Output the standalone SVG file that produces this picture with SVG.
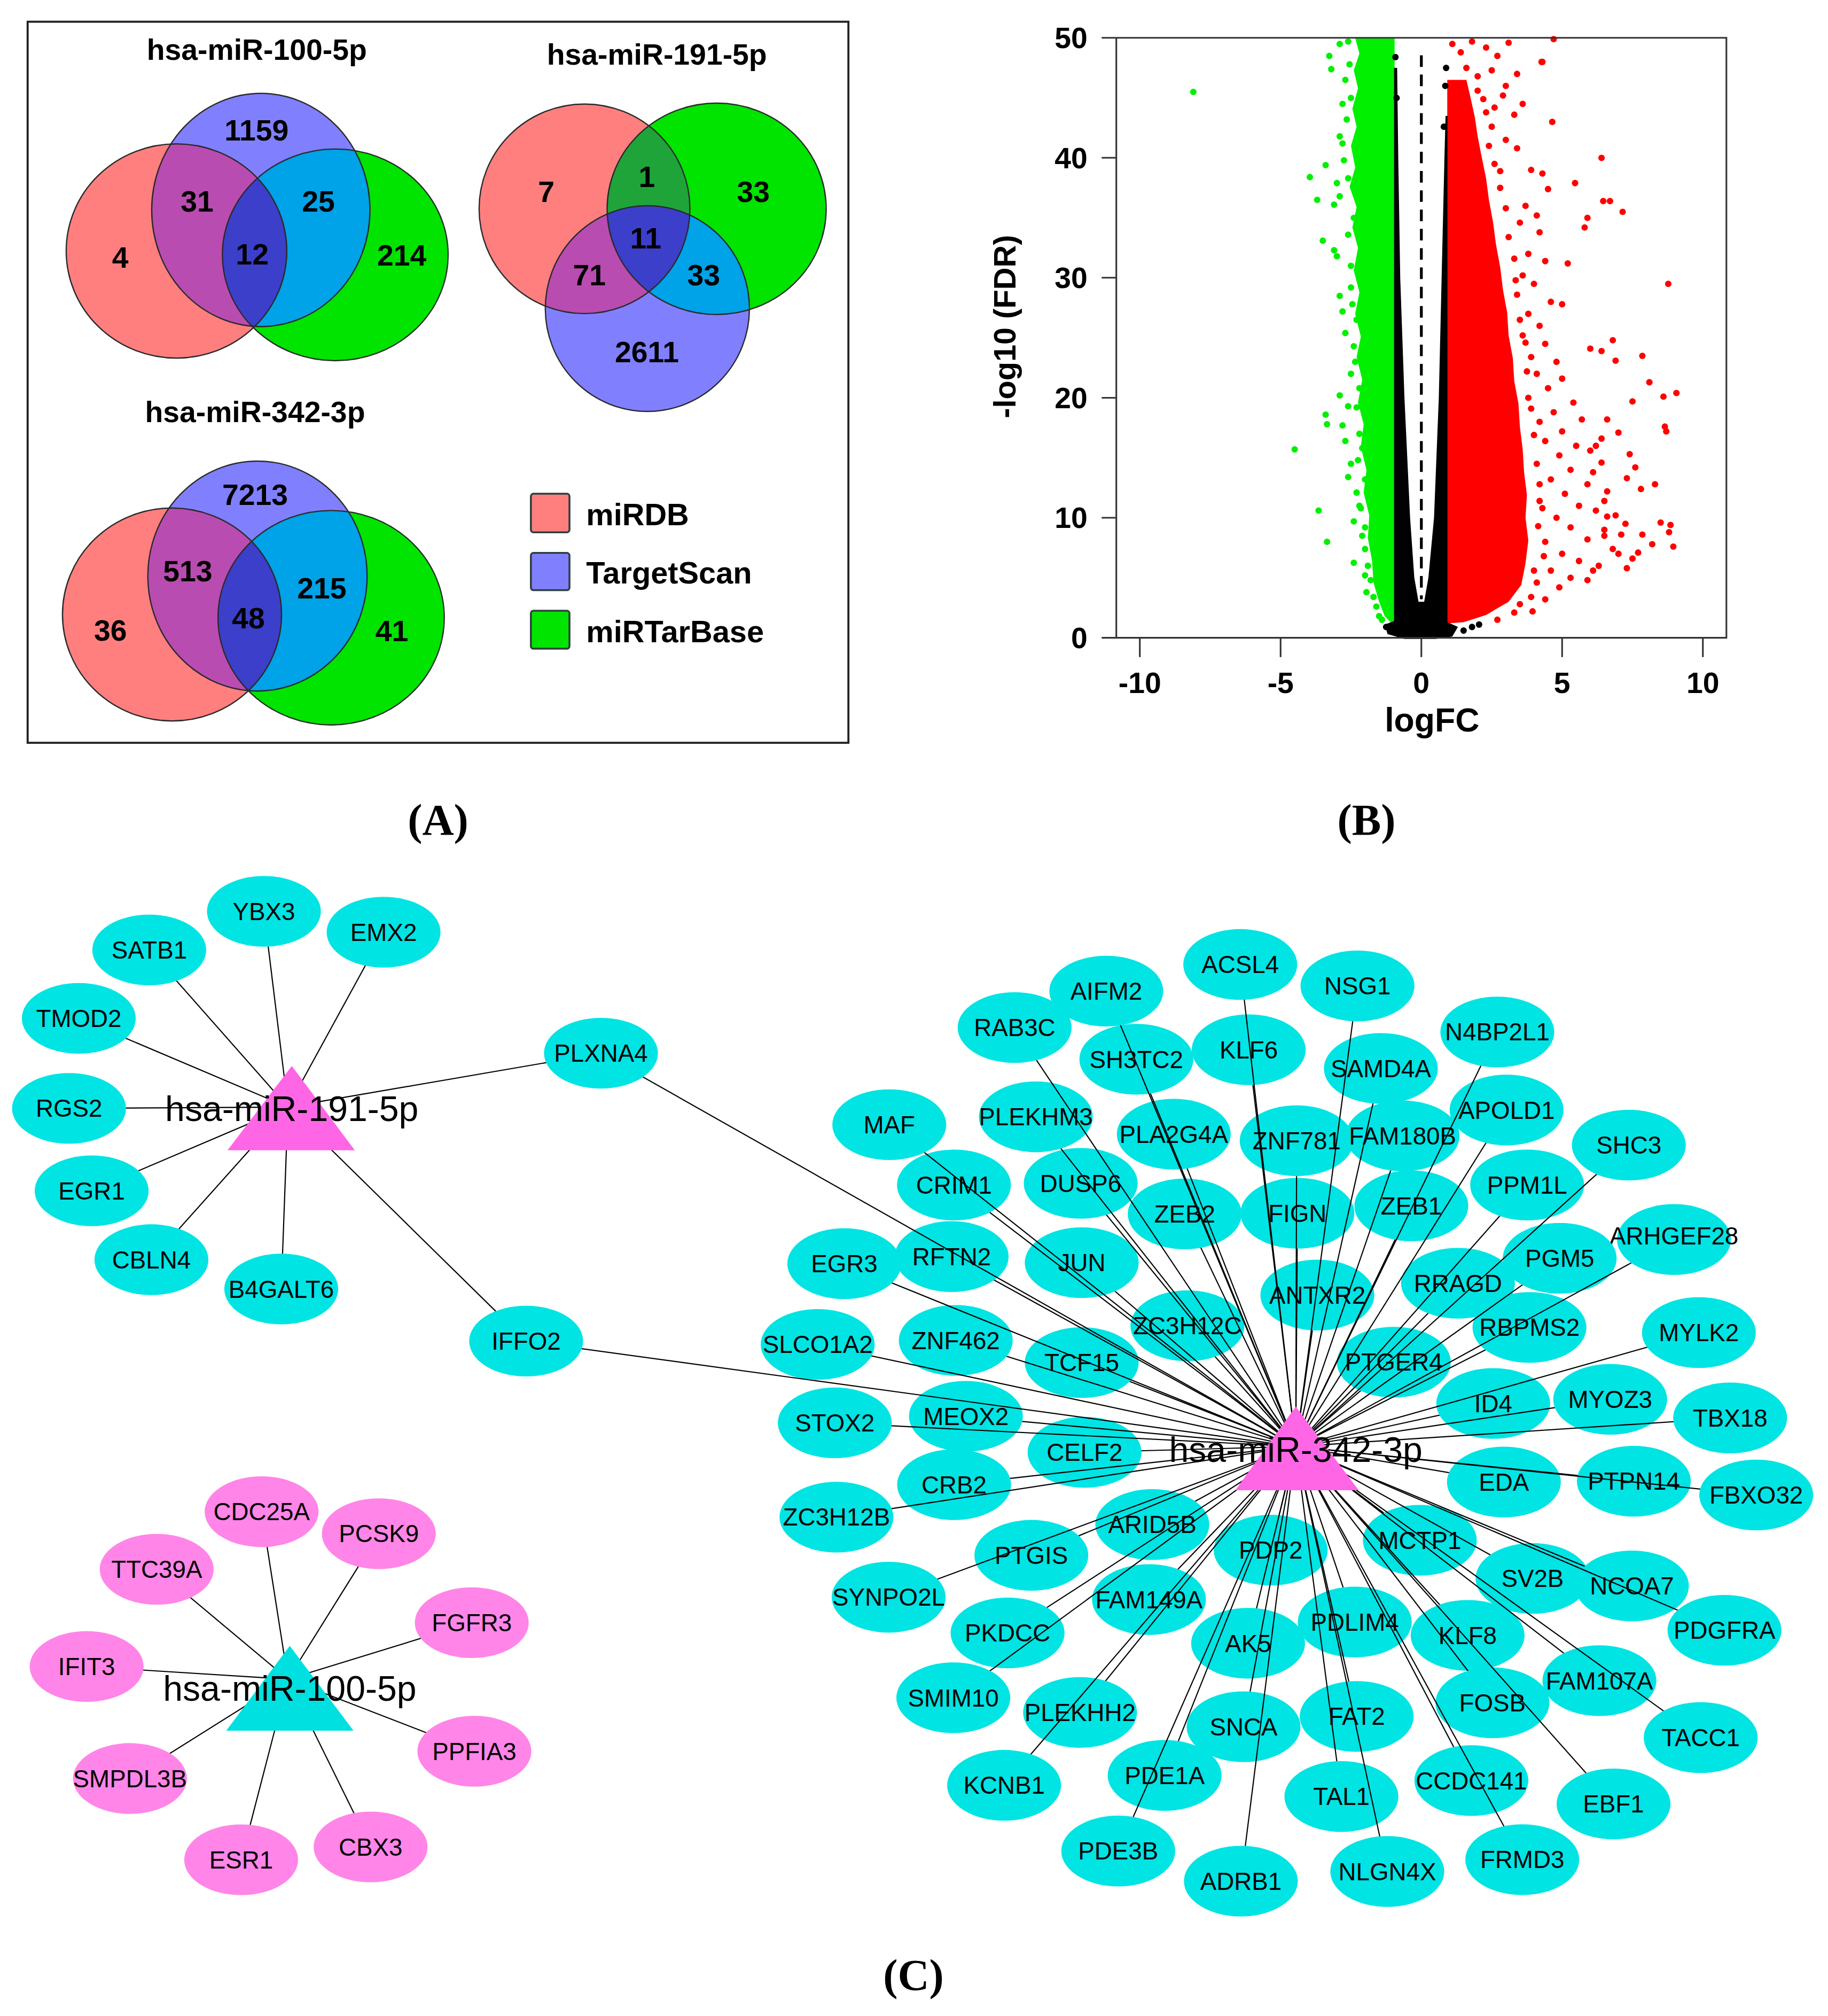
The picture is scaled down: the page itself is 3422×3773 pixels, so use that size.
<svg xmlns="http://www.w3.org/2000/svg" xmlns:xlink="http://www.w3.org/1999/xlink" width="3422" height="3773" viewBox="0 0 3422 3773">
<style>
.c{fill:#00E4E4}
.p{fill:#FF85E8}
.t{font-family:"Liberation Sans",Arial,sans-serif;font-size:19px;text-anchor:middle;fill:#000}
.tl{font-family:"Liberation Sans",Arial,sans-serif;font-size:27.5px;text-anchor:middle;fill:#000}
.vb{font-family:"Liberation Sans",Arial,sans-serif;font-weight:bold;font-size:23px;text-anchor:middle;fill:#000}
.lg{font-family:"Liberation Sans",Arial,sans-serif;font-weight:bold;font-size:24px;fill:#000}
.ax{font-family:"Liberation Sans",Arial,sans-serif;font-weight:bold;font-size:23px;fill:#000}
.pl{font-family:"Liberation Serif","Times New Roman",serif;font-weight:bold;font-size:34px;text-anchor:middle;fill:#000}
.edges line{stroke:#000;stroke-width:0.9}
</style>
<defs>
<rect id="wr" x="-10" y="-10" width="1450" height="1600" fill="#fff"/>
<ellipse id="dt" rx="0.115" ry="0.27"/>
<ellipse id="r1" cx="137.3" cy="195.2" rx="85.8" ry="83.3"/>
<ellipse id="b1" cx="202.9" cy="163.3" rx="84.9" ry="90.7"/>
<ellipse id="g1" cx="260.8" cy="198.2" rx="87.8" ry="82.3"/>
<ellipse id="r2" cx="454.7" cy="162.4" rx="82" ry="81.5"/>
<ellipse id="g2" cx="557.5" cy="162.4" rx="85.2" ry="82.2"/>
<ellipse id="b2" cx="503.6" cy="240" rx="79.4" ry="80"/>
<ellipse id="r3" cx="133.8" cy="477.9" rx="85.2" ry="82.8"/>
<ellipse id="b3" cx="200.3" cy="448" rx="85.3" ry="89.4"/>
<ellipse id="g3" cx="257.6" cy="480.4" rx="88" ry="83.4"/>
<clipPath id="cr1"><use href="#r1"/></clipPath>
<clipPath id="cb1"><use href="#b1"/></clipPath>
<clipPath id="cr2"><use href="#r2"/></clipPath>
<clipPath id="cb2"><use href="#b2"/></clipPath>
<clipPath id="cr3"><use href="#r3"/></clipPath>
<clipPath id="cb3"><use href="#b3"/></clipPath>
</defs>
<rect width="3422" height="3773" fill="#fff"/>
<g transform="scale(2.4064)">
<defs>
<mask id="m_YBX3" maskUnits="userSpaceOnUse" x="-10" y="-10" width="1450" height="1600"><use href="#wr"/><ellipse cx="205.3" cy="708.8" rx="44.3" ry="27.5"/></mask>
<mask id="m_EMX2" maskUnits="userSpaceOnUse" x="-10" y="-10" width="1450" height="1600"><use href="#wr"/><ellipse cx="298.4" cy="725" rx="44.3" ry="27.5"/></mask>
<mask id="m_SATB1" maskUnits="userSpaceOnUse" x="-10" y="-10" width="1450" height="1600"><use href="#wr"/><ellipse cx="116.1" cy="738.8" rx="44.3" ry="27.5"/></mask>
<mask id="m_TMOD2" maskUnits="userSpaceOnUse" x="-10" y="-10" width="1450" height="1600"><use href="#wr"/><ellipse cx="61.3" cy="792" rx="44.3" ry="27.5"/></mask>
<mask id="m_RGS2" maskUnits="userSpaceOnUse" x="-10" y="-10" width="1450" height="1600"><use href="#wr"/><ellipse cx="53.7" cy="862" rx="44.3" ry="27.5"/></mask>
<mask id="m_EGR1" maskUnits="userSpaceOnUse" x="-10" y="-10" width="1450" height="1600"><use href="#wr"/><ellipse cx="71.3" cy="926.1" rx="44.3" ry="27.5"/></mask>
<mask id="m_CBLN4" maskUnits="userSpaceOnUse" x="-10" y="-10" width="1450" height="1600"><use href="#wr"/><ellipse cx="117.8" cy="979.7" rx="44.3" ry="27.5"/></mask>
<mask id="m_B4GALT6" maskUnits="userSpaceOnUse" x="-10" y="-10" width="1450" height="1600"><use href="#wr"/><ellipse cx="218.8" cy="1002.5" rx="44.3" ry="27.5"/></mask>
<mask id="m_PLXNA4" maskUnits="userSpaceOnUse" x="-10" y="-10" width="1450" height="1600"><use href="#wr"/><ellipse cx="467.5" cy="819.1" rx="44.3" ry="27.5"/></mask>
<mask id="m_IFFO2" maskUnits="userSpaceOnUse" x="-10" y="-10" width="1450" height="1600"><use href="#wr"/><ellipse cx="409.3" cy="1043" rx="44.3" ry="27.5"/></mask>
<mask id="m_CDC25A" maskUnits="userSpaceOnUse" x="-10" y="-10" width="1450" height="1600"><use href="#wr"/><ellipse cx="203.5" cy="1175.7" rx="44.3" ry="27.5"/></mask>
<mask id="m_PCSK9" maskUnits="userSpaceOnUse" x="-10" y="-10" width="1450" height="1600"><use href="#wr"/><ellipse cx="294.7" cy="1192.8" rx="44.3" ry="27.5"/></mask>
<mask id="m_TTC39A" maskUnits="userSpaceOnUse" x="-10" y="-10" width="1450" height="1600"><use href="#wr"/><ellipse cx="121.9" cy="1220.5" rx="44.3" ry="27.5"/></mask>
<mask id="m_FGFR3" maskUnits="userSpaceOnUse" x="-10" y="-10" width="1450" height="1600"><use href="#wr"/><ellipse cx="367" cy="1262" rx="44.3" ry="27.5"/></mask>
<mask id="m_IFIT3" maskUnits="userSpaceOnUse" x="-10" y="-10" width="1450" height="1600"><use href="#wr"/><ellipse cx="67.4" cy="1296.1" rx="44.3" ry="27.5"/></mask>
<mask id="m_PPFIA3" maskUnits="userSpaceOnUse" x="-10" y="-10" width="1450" height="1600"><use href="#wr"/><ellipse cx="369" cy="1362" rx="44.3" ry="27.5"/></mask>
<mask id="m_SMPDL3B" maskUnits="userSpaceOnUse" x="-10" y="-10" width="1450" height="1600"><use href="#wr"/><ellipse cx="101.1" cy="1383.2" rx="44.3" ry="27.5"/></mask>
<mask id="m_ESR1" maskUnits="userSpaceOnUse" x="-10" y="-10" width="1450" height="1600"><use href="#wr"/><ellipse cx="187.6" cy="1446.4" rx="44.3" ry="27.5"/></mask>
<mask id="m_CBX3" maskUnits="userSpaceOnUse" x="-10" y="-10" width="1450" height="1600"><use href="#wr"/><ellipse cx="288.3" cy="1436.4" rx="44.3" ry="27.5"/></mask>
<mask id="m_ACSL4" maskUnits="userSpaceOnUse" x="-10" y="-10" width="1450" height="1600"><use href="#wr"/><ellipse cx="964.8" cy="750.1" rx="44.3" ry="27.5"/></mask>
<mask id="m_AIFM2" maskUnits="userSpaceOnUse" x="-10" y="-10" width="1450" height="1600"><use href="#wr"/><ellipse cx="860.6" cy="770.8" rx="44.3" ry="27.5"/></mask>
<mask id="m_NSG1" maskUnits="userSpaceOnUse" x="-10" y="-10" width="1450" height="1600"><use href="#wr"/><ellipse cx="1056" cy="766.8" rx="44.3" ry="27.5"/></mask>
<mask id="m_RAB3C" maskUnits="userSpaceOnUse" x="-10" y="-10" width="1450" height="1600"><use href="#wr"/><ellipse cx="789.3" cy="799.2" rx="44.3" ry="27.5"/></mask>
<mask id="m_N4BP2L1" maskUnits="userSpaceOnUse" x="-10" y="-10" width="1450" height="1600"><use href="#wr"/><ellipse cx="1164.8" cy="802.6" rx="44.3" ry="27.5"/></mask>
<mask id="m_SH3TC2" maskUnits="userSpaceOnUse" x="-10" y="-10" width="1450" height="1600"><use href="#wr"/><ellipse cx="884" cy="823.8" rx="44.3" ry="27.5"/></mask>
<mask id="m_KLF6" maskUnits="userSpaceOnUse" x="-10" y="-10" width="1450" height="1600"><use href="#wr"/><ellipse cx="971.4" cy="816.4" rx="44.3" ry="27.5"/></mask>
<mask id="m_SAMD4A" maskUnits="userSpaceOnUse" x="-10" y="-10" width="1450" height="1600"><use href="#wr"/><ellipse cx="1074.2" cy="831" rx="44.3" ry="27.5"/></mask>
<mask id="m_MAF" maskUnits="userSpaceOnUse" x="-10" y="-10" width="1450" height="1600"><use href="#wr"/><ellipse cx="691.8" cy="874.7" rx="44.3" ry="27.5"/></mask>
<mask id="m_PLEKHM3" maskUnits="userSpaceOnUse" x="-10" y="-10" width="1450" height="1600"><use href="#wr"/><ellipse cx="805.8" cy="868.6" rx="44.3" ry="27.5"/></mask>
<mask id="m_PLA2G4A" maskUnits="userSpaceOnUse" x="-10" y="-10" width="1450" height="1600"><use href="#wr"/><ellipse cx="913.1" cy="882.1" rx="44.3" ry="27.5"/></mask>
<mask id="m_ZNF781" maskUnits="userSpaceOnUse" x="-10" y="-10" width="1450" height="1600"><use href="#wr"/><ellipse cx="1008.7" cy="887.2" rx="44.3" ry="27.5"/></mask>
<mask id="m_FAM180B" maskUnits="userSpaceOnUse" x="-10" y="-10" width="1450" height="1600"><use href="#wr"/><ellipse cx="1091.1" cy="883.4" rx="44.3" ry="27.5"/></mask>
<mask id="m_APOLD1" maskUnits="userSpaceOnUse" x="-10" y="-10" width="1450" height="1600"><use href="#wr"/><ellipse cx="1172" cy="863.3" rx="44.3" ry="27.5"/></mask>
<mask id="m_SHC3" maskUnits="userSpaceOnUse" x="-10" y="-10" width="1450" height="1600"><use href="#wr"/><ellipse cx="1267.1" cy="890.6" rx="44.3" ry="27.5"/></mask>
<mask id="m_CRIM1" maskUnits="userSpaceOnUse" x="-10" y="-10" width="1450" height="1600"><use href="#wr"/><ellipse cx="742.1" cy="921.6" rx="44.3" ry="27.5"/></mask>
<mask id="m_DUSP6" maskUnits="userSpaceOnUse" x="-10" y="-10" width="1450" height="1600"><use href="#wr"/><ellipse cx="840.7" cy="920.3" rx="44.3" ry="27.5"/></mask>
<mask id="m_ZEB2" maskUnits="userSpaceOnUse" x="-10" y="-10" width="1450" height="1600"><use href="#wr"/><ellipse cx="921.6" cy="944.1" rx="44.3" ry="27.5"/></mask>
<mask id="m_FIGN" maskUnits="userSpaceOnUse" x="-10" y="-10" width="1450" height="1600"><use href="#wr"/><ellipse cx="1009.3" cy="943.6" rx="44.3" ry="27.5"/></mask>
<mask id="m_ZEB1" maskUnits="userSpaceOnUse" x="-10" y="-10" width="1450" height="1600"><use href="#wr"/><ellipse cx="1097.9" cy="937.8" rx="44.3" ry="27.5"/></mask>
<mask id="m_PPM1L" maskUnits="userSpaceOnUse" x="-10" y="-10" width="1450" height="1600"><use href="#wr"/><ellipse cx="1188" cy="921.6" rx="44.3" ry="27.5"/></mask>
<mask id="m_ARHGEF28" maskUnits="userSpaceOnUse" x="-10" y="-10" width="1450" height="1600"><use href="#wr"/><ellipse cx="1302.2" cy="964" rx="44.3" ry="27.5"/></mask>
<mask id="m_EGR3" maskUnits="userSpaceOnUse" x="-10" y="-10" width="1450" height="1600"><use href="#wr"/><ellipse cx="656.8" cy="982.8" rx="44.3" ry="27.5"/></mask>
<mask id="m_RFTN2" maskUnits="userSpaceOnUse" x="-10" y="-10" width="1450" height="1600"><use href="#wr"/><ellipse cx="740.3" cy="977.3" rx="44.3" ry="27.5"/></mask>
<mask id="m_JUN" maskUnits="userSpaceOnUse" x="-10" y="-10" width="1450" height="1600"><use href="#wr"/><ellipse cx="841.5" cy="982" rx="44.3" ry="27.5"/></mask>
<mask id="m_ANTXR2" maskUnits="userSpaceOnUse" x="-10" y="-10" width="1450" height="1600"><use href="#wr"/><ellipse cx="1024.8" cy="1007.2" rx="44.3" ry="27.5"/></mask>
<mask id="m_RRAGD" maskUnits="userSpaceOnUse" x="-10" y="-10" width="1450" height="1600"><use href="#wr"/><ellipse cx="1134.2" cy="998" rx="44.3" ry="27.5"/></mask>
<mask id="m_PGM5" maskUnits="userSpaceOnUse" x="-10" y="-10" width="1450" height="1600"><use href="#wr"/><ellipse cx="1213.3" cy="978.6" rx="44.3" ry="27.5"/></mask>
<mask id="m_SLCO1A2" maskUnits="userSpaceOnUse" x="-10" y="-10" width="1450" height="1600"><use href="#wr"/><ellipse cx="636.1" cy="1045.6" rx="44.3" ry="27.5"/></mask>
<mask id="m_ZNF462" maskUnits="userSpaceOnUse" x="-10" y="-10" width="1450" height="1600"><use href="#wr"/><ellipse cx="743.5" cy="1042.5" rx="44.3" ry="27.5"/></mask>
<mask id="m_ZC3H12C" maskUnits="userSpaceOnUse" x="-10" y="-10" width="1450" height="1600"><use href="#wr"/><ellipse cx="923.7" cy="1031.1" rx="44.3" ry="27.5"/></mask>
<mask id="m_TCF15" maskUnits="userSpaceOnUse" x="-10" y="-10" width="1450" height="1600"><use href="#wr"/><ellipse cx="841.5" cy="1059.7" rx="44.3" ry="27.5"/></mask>
<mask id="m_PTGER4" maskUnits="userSpaceOnUse" x="-10" y="-10" width="1450" height="1600"><use href="#wr"/><ellipse cx="1084.3" cy="1059.4" rx="44.3" ry="27.5"/></mask>
<mask id="m_RBPMS2" maskUnits="userSpaceOnUse" x="-10" y="-10" width="1450" height="1600"><use href="#wr"/><ellipse cx="1189.8" cy="1032.4" rx="44.3" ry="27.5"/></mask>
<mask id="m_MYLK2" maskUnits="userSpaceOnUse" x="-10" y="-10" width="1450" height="1600"><use href="#wr"/><ellipse cx="1321.6" cy="1036.4" rx="44.3" ry="27.5"/></mask>
<mask id="m_STOX2" maskUnits="userSpaceOnUse" x="-10" y="-10" width="1450" height="1600"><use href="#wr"/><ellipse cx="649.4" cy="1106.6" rx="44.3" ry="27.5"/></mask>
<mask id="m_MEOX2" maskUnits="userSpaceOnUse" x="-10" y="-10" width="1450" height="1600"><use href="#wr"/><ellipse cx="751.4" cy="1101.5" rx="44.3" ry="27.5"/></mask>
<mask id="m_CELF2" maskUnits="userSpaceOnUse" x="-10" y="-10" width="1450" height="1600"><use href="#wr"/><ellipse cx="843.7" cy="1129.5" rx="44.3" ry="27.5"/></mask>
<mask id="m_ID4" maskUnits="userSpaceOnUse" x="-10" y="-10" width="1450" height="1600"><use href="#wr"/><ellipse cx="1161.6" cy="1091.5" rx="44.3" ry="27.5"/></mask>
<mask id="m_MYOZ3" maskUnits="userSpaceOnUse" x="-10" y="-10" width="1450" height="1600"><use href="#wr"/><ellipse cx="1252.6" cy="1088.3" rx="44.3" ry="27.5"/></mask>
<mask id="m_TBX18" maskUnits="userSpaceOnUse" x="-10" y="-10" width="1450" height="1600"><use href="#wr"/><ellipse cx="1345.9" cy="1102.8" rx="44.3" ry="27.5"/></mask>
<mask id="m_ZC3H12B" maskUnits="userSpaceOnUse" x="-10" y="-10" width="1450" height="1600"><use href="#wr"/><ellipse cx="650.7" cy="1179.9" rx="44.3" ry="27.5"/></mask>
<mask id="m_CRB2" maskUnits="userSpaceOnUse" x="-10" y="-10" width="1450" height="1600"><use href="#wr"/><ellipse cx="742.2" cy="1154.7" rx="44.3" ry="27.5"/></mask>
<mask id="m_EDA" maskUnits="userSpaceOnUse" x="-10" y="-10" width="1450" height="1600"><use href="#wr"/><ellipse cx="1169.9" cy="1152.6" rx="44.3" ry="27.5"/></mask>
<mask id="m_PTPN14" maskUnits="userSpaceOnUse" x="-10" y="-10" width="1450" height="1600"><use href="#wr"/><ellipse cx="1271" cy="1152" rx="44.3" ry="27.5"/></mask>
<mask id="m_FBXO32" maskUnits="userSpaceOnUse" x="-10" y="-10" width="1450" height="1600"><use href="#wr"/><ellipse cx="1366.2" cy="1162.7" rx="44.3" ry="27.5"/></mask>
<mask id="m_ARID5B" maskUnits="userSpaceOnUse" x="-10" y="-10" width="1450" height="1600"><use href="#wr"/><ellipse cx="896.4" cy="1185.7" rx="44.3" ry="27.5"/></mask>
<mask id="m_PTGIS" maskUnits="userSpaceOnUse" x="-10" y="-10" width="1450" height="1600"><use href="#wr"/><ellipse cx="802.3" cy="1209.6" rx="44.3" ry="27.5"/></mask>
<mask id="m_PDP2" maskUnits="userSpaceOnUse" x="-10" y="-10" width="1450" height="1600"><use href="#wr"/><ellipse cx="988.5" cy="1205.6" rx="44.3" ry="27.5"/></mask>
<mask id="m_MCTP1" maskUnits="userSpaceOnUse" x="-10" y="-10" width="1450" height="1600"><use href="#wr"/><ellipse cx="1104.5" cy="1197.9" rx="44.3" ry="27.5"/></mask>
<mask id="m_SV2B" maskUnits="userSpaceOnUse" x="-10" y="-10" width="1450" height="1600"><use href="#wr"/><ellipse cx="1192.2" cy="1227.6" rx="44.3" ry="27.5"/></mask>
<mask id="m_NCOA7" maskUnits="userSpaceOnUse" x="-10" y="-10" width="1450" height="1600"><use href="#wr"/><ellipse cx="1269.5" cy="1233.4" rx="44.3" ry="27.5"/></mask>
<mask id="m_SYNPO2L" maskUnits="userSpaceOnUse" x="-10" y="-10" width="1450" height="1600"><use href="#wr"/><ellipse cx="691.3" cy="1242.2" rx="44.3" ry="27.5"/></mask>
<mask id="m_FAM149A" maskUnits="userSpaceOnUse" x="-10" y="-10" width="1450" height="1600"><use href="#wr"/><ellipse cx="893.8" cy="1244" rx="44.3" ry="27.5"/></mask>
<mask id="m_PDLIM4" maskUnits="userSpaceOnUse" x="-10" y="-10" width="1450" height="1600"><use href="#wr"/><ellipse cx="1053.9" cy="1261.5" rx="44.3" ry="27.5"/></mask>
<mask id="m_AK5" maskUnits="userSpaceOnUse" x="-10" y="-10" width="1450" height="1600"><use href="#wr"/><ellipse cx="970.9" cy="1278" rx="44.3" ry="27.5"/></mask>
<mask id="m_KLF8" maskUnits="userSpaceOnUse" x="-10" y="-10" width="1450" height="1600"><use href="#wr"/><ellipse cx="1141.7" cy="1271.9" rx="44.3" ry="27.5"/></mask>
<mask id="m_PDGFRA" maskUnits="userSpaceOnUse" x="-10" y="-10" width="1450" height="1600"><use href="#wr"/><ellipse cx="1341.5" cy="1267.9" rx="44.3" ry="27.5"/></mask>
<mask id="m_PKDCC" maskUnits="userSpaceOnUse" x="-10" y="-10" width="1450" height="1600"><use href="#wr"/><ellipse cx="783.8" cy="1270" rx="44.3" ry="27.5"/></mask>
<mask id="m_FAM107A" maskUnits="userSpaceOnUse" x="-10" y="-10" width="1450" height="1600"><use href="#wr"/><ellipse cx="1244.2" cy="1307.1" rx="44.3" ry="27.5"/></mask>
<mask id="m_SMIM10" maskUnits="userSpaceOnUse" x="-10" y="-10" width="1450" height="1600"><use href="#wr"/><ellipse cx="741.6" cy="1320.4" rx="44.3" ry="27.5"/></mask>
<mask id="m_PLEKHH2" maskUnits="userSpaceOnUse" x="-10" y="-10" width="1450" height="1600"><use href="#wr"/><ellipse cx="840.2" cy="1331.8" rx="44.3" ry="27.5"/></mask>
<mask id="m_SNCA" maskUnits="userSpaceOnUse" x="-10" y="-10" width="1450" height="1600"><use href="#wr"/><ellipse cx="967.4" cy="1342.9" rx="44.3" ry="27.5"/></mask>
<mask id="m_FAT2" maskUnits="userSpaceOnUse" x="-10" y="-10" width="1450" height="1600"><use href="#wr"/><ellipse cx="1055.4" cy="1334.9" rx="44.3" ry="27.5"/></mask>
<mask id="m_FOSB" maskUnits="userSpaceOnUse" x="-10" y="-10" width="1450" height="1600"><use href="#wr"/><ellipse cx="1161" cy="1324.3" rx="44.3" ry="27.5"/></mask>
<mask id="m_TACC1" maskUnits="userSpaceOnUse" x="-10" y="-10" width="1450" height="1600"><use href="#wr"/><ellipse cx="1323" cy="1351.4" rx="44.3" ry="27.5"/></mask>
<mask id="m_KCNB1" maskUnits="userSpaceOnUse" x="-10" y="-10" width="1450" height="1600"><use href="#wr"/><ellipse cx="781.1" cy="1388.5" rx="44.3" ry="27.5"/></mask>
<mask id="m_PDE1A" maskUnits="userSpaceOnUse" x="-10" y="-10" width="1450" height="1600"><use href="#wr"/><ellipse cx="906" cy="1380.8" rx="44.3" ry="27.5"/></mask>
<mask id="m_TAL1" maskUnits="userSpaceOnUse" x="-10" y="-10" width="1450" height="1600"><use href="#wr"/><ellipse cx="1043.5" cy="1397.2" rx="44.3" ry="27.5"/></mask>
<mask id="m_CCDC141" maskUnits="userSpaceOnUse" x="-10" y="-10" width="1450" height="1600"><use href="#wr"/><ellipse cx="1144.6" cy="1384.8" rx="44.3" ry="27.5"/></mask>
<mask id="m_EBF1" maskUnits="userSpaceOnUse" x="-10" y="-10" width="1450" height="1600"><use href="#wr"/><ellipse cx="1255.2" cy="1403" rx="44.3" ry="27.5"/></mask>
<mask id="m_PDE3B" maskUnits="userSpaceOnUse" x="-10" y="-10" width="1450" height="1600"><use href="#wr"/><ellipse cx="869.9" cy="1439.6" rx="44.3" ry="27.5"/></mask>
<mask id="m_ADRB1" maskUnits="userSpaceOnUse" x="-10" y="-10" width="1450" height="1600"><use href="#wr"/><ellipse cx="965.3" cy="1463" rx="44.3" ry="27.5"/></mask>
<mask id="m_NLGN4X" maskUnits="userSpaceOnUse" x="-10" y="-10" width="1450" height="1600"><use href="#wr"/><ellipse cx="1079.2" cy="1455.5" rx="44.3" ry="27.5"/></mask>
<mask id="m_FRMD3" maskUnits="userSpaceOnUse" x="-10" y="-10" width="1450" height="1600"><use href="#wr"/><ellipse cx="1184.2" cy="1446.3" rx="44.3" ry="27.5"/></mask>
</defs>

<!-- Panel A: Venn diagrams -->
<g id="panelA">
<rect x="21.5" y="16.9" width="638.5" height="560.8" fill="none" stroke="#222" stroke-width="1.6"/>
<g id="venn1">
<use href="#r1" fill="#FF7F7F"/><use href="#b1" fill="#8080FF"/><use href="#g1" fill="#00E400"/>
<use href="#b1" fill="#B94CB0" clip-path="url(#cr1)"/>
<use href="#g1" fill="#00A2E8" clip-path="url(#cb1)"/>
<use href="#g1" fill="#1FA43A" clip-path="url(#cr1)"/>
<g clip-path="url(#cr1)"><use href="#g1" fill="#3C3FC9" clip-path="url(#cb1)"/></g>
<g fill="none" stroke="#2a2a2a" stroke-width="1"><use href="#r1"/><use href="#b1"/><use href="#g1"/></g>
<text class="vb" x="199.8" y="46.4">hsa-miR-100-5p</text>
<text class="vb" x="199.6" y="109.1">1159</text>
<text class="vb" x="153.3" y="164.4">31</text>
<text class="vb" x="247.7" y="164.4">25</text>
<text class="vb" x="93.6" y="208.4">4</text>
<text class="vb" x="196.2" y="205.8">12</text>
<text class="vb" x="312.6" y="206.5">214</text>
</g>
<g id="venn2">
<use href="#r2" fill="#FF7F7F"/><use href="#g2" fill="#00E400"/><use href="#b2" fill="#8080FF"/>
<use href="#g2" fill="#1FA43A" clip-path="url(#cr2)"/>
<use href="#r2" fill="#B94CB0" clip-path="url(#cb2)"/>
<use href="#g2" fill="#00A2E8" clip-path="url(#cb2)"/>
<g clip-path="url(#cr2)"><use href="#g2" fill="#3C3FC9" clip-path="url(#cb2)"/></g>
<g fill="none" stroke="#2a2a2a" stroke-width="1"><use href="#r2"/><use href="#g2"/><use href="#b2"/></g>
<text class="vb" x="511" y="50.1">hsa-miR-191-5p</text>
<text class="vb" x="425" y="156.9">7</text>
<text class="vb" x="503.2" y="145.6">1</text>
<text class="vb" x="586" y="156.9">33</text>
<text class="vb" x="502.3" y="193.4">11</text>
<text class="vb" x="458.5" y="222">71</text>
<text class="vb" x="547.4" y="222">33</text>
<text class="vb" x="503.2" y="281.8">2611</text>
</g>
<g id="venn3">
<use href="#r3" fill="#FF7F7F"/><use href="#b3" fill="#8080FF"/><use href="#g3" fill="#00E400"/>
<use href="#b3" fill="#B94CB0" clip-path="url(#cr3)"/>
<use href="#g3" fill="#00A2E8" clip-path="url(#cb3)"/>
<use href="#g3" fill="#1FA43A" clip-path="url(#cr3)"/>
<g clip-path="url(#cr3)"><use href="#g3" fill="#3C3FC9" clip-path="url(#cb3)"/></g>
<g fill="none" stroke="#2a2a2a" stroke-width="1"><use href="#r3"/><use href="#b3"/><use href="#g3"/></g>
<text class="vb" x="198.4" y="328.2">hsa-miR-342-3p</text>
<text class="vb" x="198.4" y="392.8">7213</text>
<text class="vb" x="146" y="452.2">513</text>
<text class="vb" x="250.3" y="465.4">215</text>
<text class="vb" x="85.9" y="498.2">36</text>
<text class="vb" x="193.2" y="488.8">48</text>
<text class="vb" x="304.8" y="498.6">41</text>
</g>
<g id="legend" stroke="#2f3f3f" stroke-width="1.5">
<rect x="413" y="384" width="30" height="30" rx="2" fill="#FF7F7F"/>
<rect x="413" y="430" width="30" height="29" rx="2" fill="#8080FF"/>
<rect x="413" y="475" width="30" height="29.5" rx="2" fill="#00E400"/>
</g>
<text class="lg" x="456" y="408.3">miRDB</text>
<text class="lg" x="456" y="453.8">TargetScan</text>
<text class="lg" x="456" y="499.7">miRTarBase</text>
</g>

<!-- Panel B: volcano plot -->
<g id="panelB">
<g transform="translate(1105.7,496) scale(21.9,-9.33)">
<polygon fill="#00F000" points="-0.95,50 -2.35,50 -2.2,48.7 -2.4,47.3 -2.25,45.8 -2.45,44.1 -2.3,42.6 -2.5,41 -2.35,39.2 -2.55,37.6 -2.3,35.9 -2.45,34.2 -2.25,32.5 -2.4,30.6 -2.2,28.8 -2.35,27 -2.15,25.1 -2.3,23.4 -2.1,21.5 -2.25,19.6 -2.05,17.8 -2.15,15.9 -1.95,14 -2.05,12.1 -1.85,10.2 -1.9,8.3 -1.75,6.4 -1.7,4.6 -1.5,3 -1.3,1.8 -1.1,1.3 -0.95,1.3"/>
<polygon fill="#FF0000" points="0.92,46.5 1.6,46.5 1.75,45 1.9,43.4 2.0,41.8 2.15,40 2.3,38.3 2.4,36.5 2.55,34.6 2.65,32.8 2.8,30.9 2.9,29 3.05,27.1 3.1,25.2 3.25,23.3 3.3,21.4 3.45,19.5 3.5,17.6 3.6,15.7 3.65,13.8 3.75,11.9 3.7,10 3.8,8.1 3.7,6.2 3.55,4.4 3.1,3 2.3,1.9 1.5,1.3 0.92,1.2"/>
<polygon fill="#000" points="-0.97,47.5 -0.86,47.5 -0.82,40 -0.75,30 -0.6,20 -0.4,10 -0.25,5 -0.1,3 0.1,3 0.25,5 0.45,10 0.62,20 0.72,30 0.82,40 0.86,43.5 0.93,43.5 0.93,1.3 1.3,0.9 1.1,0.1 0.5,-0.1 -0.6,-0.1 -1.2,0.3 -1.3,1.1 -0.97,1.4"/>
<g fill="#00F000">
<use href="#dt" x="-8.1" y="45.5"/><use href="#dt" x="-3.96" y="38.4"/><use href="#dt" x="-3.7" y="36.5"/><use href="#dt" x="-3.4" y="39.4"/><use href="#dt" x="-3.5" y="33.1"/><use href="#dt" x="-3.27" y="48.5"/><use href="#dt" x="-3.2" y="47.4"/><use href="#dt" x="-3.4" y="18.6"/><use href="#dt" x="-3.35" y="17.8"/><use href="#dt" x="-4.5" y="15.7"/><use href="#dt" x="-3.65" y="10.6"/><use href="#dt" x="-3.35" y="8.0"/><use href="#dt" x="-2.8" y="17.7"/><use href="#dt" x="-2.4" y="6.25"/><use href="#dt" x="-2.9" y="41.8"/><use href="#dt" x="-2.8" y="41.2"/><use href="#dt" x="-3.0" y="37.9"/><use href="#dt" x="-2.9" y="36.8"/><use href="#dt" x="-2.6" y="38.3"/><use href="#dt" x="-3.1" y="32.3"/><use href="#dt" x="-3.0" y="31.8"/><use href="#dt" x="-2.8" y="27.2"/><use href="#dt" x="-2.7" y="25.4"/><use href="#dt" x="-2.5" y="22"/><use href="#dt" x="-2.9" y="20.2"/><use href="#dt" x="-2.6" y="19.3"/><use href="#dt" x="-2.7" y="16.4"/><use href="#dt" x="-2.5" y="14.5"/><use href="#dt" x="-2.6" y="13.4"/><use href="#dt" x="-2.3" y="12.1"/><use href="#dt" x="-2.2" y="11.0"/><use href="#dt" x="-2.4" y="9.7"/><use href="#dt" x="-2.1" y="8.5"/><use href="#dt" x="-2.0" y="7.4"/><use href="#dt" x="-1.9" y="6.0"/><use href="#dt" x="-1.8" y="4.8"/><use href="#dt" x="-1.7" y="3.4"/><use href="#dt" x="-1.6" y="2.6"/><use href="#dt" x="-2.6" y="49.7"/><use href="#dt" x="-2.9" y="49.5"/><use href="#dt" x="-2.5" y="45"/><use href="#dt" x="-2.8" y="44.5"/><use href="#dt" x="-2.4" y="35.0"/><use href="#dt" x="-2.5" y="29.2"/><use href="#dt" x="-2.3" y="26.5"/><use href="#dt" x="-2.2" y="17.0"/><use href="#dt" x="-2.1" y="15.8"/><use href="#dt" x="-2.0" y="13.2"/><use href="#dt" x="-2.2" y="20.8"/><use href="#dt" x="-2.4" y="24.3"/><use href="#dt" x="-2.6" y="33.6"/><use href="#dt" x="-2.9" y="28.5"/><use href="#dt" x="-3.1" y="36.1"/><use href="#dt" x="-2.7" y="46.5"/><use href="#dt" x="-2.2" y="43"/><use href="#dt" x="-2.0" y="5.2"/><use href="#dt" x="-1.5" y="1.8"/><use href="#dt" x="-1.4" y="1.5"/>
<use href="#dt" x="-2.55" y="47.8"/><use href="#dt" x="-2.65" y="43.2"/><use href="#dt" x="-2.75" y="39.8"/><use href="#dt" x="-2.5" y="31"/><use href="#dt" x="-2.45" y="27.8"/><use href="#dt" x="-2.35" y="23"/><use href="#dt" x="-2.3" y="19.2"/><use href="#dt" x="-2.25" y="14.8"/><use href="#dt" x="-2.15" y="10.8"/><use href="#dt" x="-2.0" y="9.2"/><use href="#dt" x="-1.95" y="3.8"/>
</g>
<g fill="#FF0000">
<use href="#dt" x="1.1" y="49.5"/><use href="#dt" x="1.4" y="48.8"/><use href="#dt" x="1.8" y="49.7"/><use href="#dt" x="2.3" y="49.2"/><use href="#dt" x="2.7" y="48.5"/><use href="#dt" x="3.1" y="49.6"/><use href="#dt" x="1.6" y="47.5"/><use href="#dt" x="2.0" y="46.8"/><use href="#dt" x="2.5" y="47.3"/><use href="#dt" x="3.4" y="47"/><use href="#dt" x="3.0" y="46"/><use href="#dt" x="4.3" y="48"/><use href="#dt" x="4.7" y="49.9"/><use href="#dt" x="2.9" y="45.2"/><use href="#dt" x="3.6" y="44.5"/><use href="#dt" x="3.3" y="43.6"/><use href="#dt" x="2.6" y="44.2"/><use href="#dt" x="3.0" y="41.5"/><use href="#dt" x="3.4" y="40.8"/><use href="#dt" x="2.4" y="41"/><use href="#dt" x="4.65" y="43"/>
<use href="#dt" x="3.9" y="39"/><use href="#dt" x="4.3" y="38.7"/><use href="#dt" x="4.5" y="37.4"/><use href="#dt" x="3.7" y="36"/><use href="#dt" x="4.1" y="35.2"/><use href="#dt" x="3.5" y="34.6"/><use href="#dt" x="4.2" y="33.8"/><use href="#dt" x="3.8" y="32"/><use href="#dt" x="4.4" y="31.4"/><use href="#dt" x="3.6" y="30.2"/><use href="#dt" x="4.0" y="29.5"/><use href="#dt" x="3.4" y="28.6"/><use href="#dt" x="4.6" y="28"/><use href="#dt" x="3.8" y="27"/><use href="#dt" x="4.2" y="26"/><use href="#dt" x="3.6" y="25.2"/><use href="#dt" x="4.4" y="24.5"/><use href="#dt" x="3.9" y="23.4"/><use href="#dt" x="4.8" y="23"/><use href="#dt" x="4.1" y="22"/><use href="#dt" x="5.0" y="21.6"/><use href="#dt" x="4.5" y="20.8"/><use href="#dt" x="3.8" y="20"/><use href="#dt" x="5.4" y="19.6"/><use href="#dt" x="4.7" y="18.8"/><use href="#dt" x="4.2" y="18"/><use href="#dt" x="5.7" y="18.2"/><use href="#dt" x="5.0" y="17.2"/><use href="#dt" x="4.4" y="16.4"/><use href="#dt" x="5.5" y="16.0"/><use href="#dt" x="6.0" y="15.6"/><use href="#dt" x="4.9" y="15.2"/><use href="#dt" x="6.4" y="14.6"/><use href="#dt" x="5.3" y="14"/><use href="#dt" x="4.6" y="13.2"/><use href="#dt" x="5.9" y="12.8"/><use href="#dt" x="6.6" y="12.2"/><use href="#dt" x="5.1" y="12"/><use href="#dt" x="4.2" y="11.4"/><use href="#dt" x="5.6" y="11"/><use href="#dt" x="6.2" y="10.6"/><use href="#dt" x="6.9" y="10.2"/><use href="#dt" x="4.8" y="10"/><use href="#dt" x="5.3" y="9.2"/><use href="#dt" x="6.5" y="9.0"/><use href="#dt" x="7.1" y="8.6"/><use href="#dt" x="5.9" y="8.2"/><use href="#dt" x="4.4" y="8"/><use href="#dt" x="6.8" y="7.4"/><use href="#dt" x="5.0" y="7.0"/><use href="#dt" x="5.6" y="6.4"/><use href="#dt" x="6.3" y="6.0"/><use href="#dt" x="4.6" y="5.6"/><use href="#dt" x="5.3" y="5.0"/><use href="#dt" x="4.1" y="4.6"/><use href="#dt" x="4.9" y="4.2"/><use href="#dt" x="5.9" y="4.8"/><use href="#dt" x="3.9" y="3.4"/><use href="#dt" x="4.4" y="3.2"/><use href="#dt" x="3.5" y="2.8"/>
<use href="#dt" x="5.46" y="37.9"/><use href="#dt" x="6.4" y="40"/><use href="#dt" x="6.46" y="36.4"/><use href="#dt" x="6.7" y="36.4"/><use href="#dt" x="7.15" y="35.5"/><use href="#dt" x="5.8" y="34.2"/><use href="#dt" x="5.9" y="35"/><use href="#dt" x="8.77" y="29.5"/><use href="#dt" x="5.2" y="31.2"/><use href="#dt" x="5.0" y="27.8"/><use href="#dt" x="6.0" y="24.1"/><use href="#dt" x="6.4" y="23.9"/><use href="#dt" x="6.8" y="24.8"/><use href="#dt" x="7.85" y="23.5"/><use href="#dt" x="6.9" y="23.1"/><use href="#dt" x="9.06" y="20.4"/><use href="#dt" x="8.6" y="20.1"/><use href="#dt" x="8.65" y="17.6"/><use href="#dt" x="8.7" y="17.2"/><use href="#dt" x="8.1" y="21.3"/><use href="#dt" x="7.5" y="19.7"/><use href="#dt" x="7.0" y="17.1"/><use href="#dt" x="8.3" y="12.8"/><use href="#dt" x="7.4" y="15.3"/><use href="#dt" x="7.6" y="14.2"/><use href="#dt" x="7.3" y="13.3"/><use href="#dt" x="7.8" y="12.4"/><use href="#dt" x="8.85" y="9.4"/><use href="#dt" x="8.95" y="7.6"/><use href="#dt" x="8.8" y="8.8"/><use href="#dt" x="8.5" y="9.6"/><use href="#dt" x="8.2" y="7.8"/><use href="#dt" x="7.85" y="8.6"/><use href="#dt" x="7.7" y="7.1"/><use href="#dt" x="7.5" y="6.6"/><use href="#dt" x="7.3" y="5.8"/><use href="#dt" x="7.0" y="7.0"/><use href="#dt" x="6.6" y="10.1"/><use href="#dt" x="6.5" y="11.4"/><use href="#dt" x="6.1" y="13.8"/><use href="#dt" x="6.2" y="16.0"/><use href="#dt" x="6.4" y="16.6"/><use href="#dt" x="6.6" y="18.2"/><use href="#dt" x="6.1" y="5.6"/><use href="#dt" x="6.5" y="8.5"/><use href="#dt" x="7.25" y="9.5"/><use href="#dt" x="4.27" y="48"/>
<use href="#dt" x="2.0" y="45.6"/><use href="#dt" x="2.3" y="43.8"/><use href="#dt" x="2.5" y="42.6"/><use href="#dt" x="2.6" y="39.5"/><use href="#dt" x="2.8" y="37.5"/><use href="#dt" x="3.0" y="35.8"/><use href="#dt" x="3.1" y="33.4"/><use href="#dt" x="3.3" y="31.6"/><use href="#dt" x="3.35" y="29.8"/><use href="#dt" x="3.5" y="26.5"/><use href="#dt" x="3.7" y="24.6"/><use href="#dt" x="3.75" y="22.2"/><use href="#dt" x="3.9" y="19.1"/><use href="#dt" x="4.0" y="16.9"/><use href="#dt" x="4.1" y="14.5"/><use href="#dt" x="4.2" y="12.8"/><use href="#dt" x="4.3" y="10.8"/><use href="#dt" x="4.15" y="9.3"/><use href="#dt" x="4.35" y="6.8"/><use href="#dt" x="4.0" y="5.6"/><use href="#dt" x="3.95" y="2.2"/><use href="#dt" x="3.3" y="2.1"/><use href="#dt" x="2.7" y="1.5"/><use href="#dt" x="2.8" y="38.9"/><use href="#dt" x="2.2" y="44.9"/>
</g>
<g fill="#000">
<use href="#dt" x="1.8" y="0.9"/><use href="#dt" x="2.05" y="1.1"/><use href="#dt" x="1.5" y="0.6"/><use href="#dt" x="-1.25" y="0.9"/><use href="#dt" x="0.85" y="46"/><use href="#dt" x="0.88" y="47.5"/><use href="#dt" x="-0.92" y="48.4"/><use href="#dt" x="-0.88" y="45"/><use href="#dt" x="0.8" y="42.6"/>
</g>
</g>
<line x1="1105.7" y1="43" x2="1105.7" y2="466" stroke="#000" stroke-width="2.2" stroke-dasharray="9,6"/>
<path d="M868.4,29.4 V496 M857,29.4 H1343 V496 H857 M857,122.7 H868.4 M857,216 H868.4 M857,309.4 H868.4 M857,402.7 H868.4 M886.7,496 V511 M996.2,496 V511 M1105.7,496 V511 M1215.2,496 V511 M1324.7,496 V511" fill="none" stroke="#333" stroke-width="1.3"/>
<g class="ax" text-anchor="end">
<text x="846" y="37.4">50</text>
<text x="846" y="130.7">40</text>
<text x="846" y="224">30</text>
<text x="846" y="317.4">20</text>
<text x="846" y="410.7">10</text>
<text x="846" y="504">0</text>
</g>
<g class="ax" text-anchor="middle">
<text x="886.7" y="538.8">-10</text>
<text x="996.2" y="538.8">-5</text>
<text x="1105.7" y="538.8">0</text>
<text x="1215.2" y="538.8">5</text>
<text x="1324.7" y="538.8">10</text>
</g>
<text x="1114" y="569" font-family="Liberation Sans, Arial, sans-serif" font-weight="bold" font-size="26" text-anchor="middle">logFC</text>
<text transform="translate(790,254) rotate(-90)" font-family="Liberation Sans, Arial, sans-serif" font-weight="bold" font-size="24" text-anchor="middle">-log10 (FDR)</text>
</g>

<text class="pl" x="340.8" y="649">(A)</text>
<text class="pl" x="1063" y="649">(B)</text>
<text class="pl" x="710.6" y="1547.5">(C)</text>

<!-- Panel C: network nodes -->
<g id="n_YBX3"><ellipse class="c" cx="205.3" cy="708.8" rx="44.3" ry="27.5"/><text class="t" x="205.3" y="715.5">YBX3</text></g>
<g id="n_EMX2"><ellipse class="c" cx="298.4" cy="725" rx="44.3" ry="27.5"/><text class="t" x="298.4" y="731.7">EMX2</text></g>
<g id="n_SATB1"><ellipse class="c" cx="116.1" cy="738.8" rx="44.3" ry="27.5"/><text class="t" x="116.1" y="745.5">SATB1</text></g>
<g id="n_TMOD2"><ellipse class="c" cx="61.3" cy="792" rx="44.3" ry="27.5"/><text class="t" x="61.3" y="798.7">TMOD2</text></g>
<g id="n_RGS2"><ellipse class="c" cx="53.7" cy="862" rx="44.3" ry="27.5"/><text class="t" x="53.7" y="868.7">RGS2</text></g>
<g id="n_EGR1"><ellipse class="c" cx="71.3" cy="926.1" rx="44.3" ry="27.5"/><text class="t" x="71.3" y="932.8">EGR1</text></g>
<g id="n_CBLN4"><ellipse class="c" cx="117.8" cy="979.7" rx="44.3" ry="27.5"/><text class="t" x="117.8" y="986.4">CBLN4</text></g>
<g id="n_B4GALT6"><ellipse class="c" cx="218.8" cy="1002.5" rx="44.3" ry="27.5"/><text class="t" x="218.8" y="1009.2">B4GALT6</text></g>
<g id="n_PLXNA4"><ellipse class="c" cx="467.5" cy="819.1" rx="44.3" ry="27.5"/><text class="t" x="467.5" y="825.8">PLXNA4</text></g>
<g id="n_IFFO2"><ellipse class="c" cx="409.3" cy="1043" rx="44.3" ry="27.5"/><text class="t" x="409.3" y="1049.7">IFFO2</text></g>

<g id="n_CDC25A"><ellipse class="p" cx="203.5" cy="1175.7" rx="44.3" ry="27.5"/><text class="t" x="203.5" y="1182.4">CDC25A</text></g>
<g id="n_PCSK9"><ellipse class="p" cx="294.7" cy="1192.8" rx="44.3" ry="27.5"/><text class="t" x="294.7" y="1199.5">PCSK9</text></g>
<g id="n_TTC39A"><ellipse class="p" cx="121.9" cy="1220.5" rx="44.3" ry="27.5"/><text class="t" x="121.9" y="1227.2">TTC39A</text></g>
<g id="n_FGFR3"><ellipse class="p" cx="367" cy="1262" rx="44.3" ry="27.5"/><text class="t" x="367" y="1268.7">FGFR3</text></g>
<g id="n_IFIT3"><ellipse class="p" cx="67.4" cy="1296.1" rx="44.3" ry="27.5"/><text class="t" x="67.4" y="1302.8">IFIT3</text></g>
<g id="n_PPFIA3"><ellipse class="p" cx="369" cy="1362" rx="44.3" ry="27.5"/><text class="t" x="369" y="1368.7">PPFIA3</text></g>
<g id="n_SMPDL3B"><ellipse class="p" cx="101.1" cy="1383.2" rx="44.3" ry="27.5"/><text class="t" x="101.1" y="1389.9">SMPDL3B</text></g>
<g id="n_ESR1"><ellipse class="p" cx="187.6" cy="1446.4" rx="44.3" ry="27.5"/><text class="t" x="187.6" y="1453.1">ESR1</text></g>
<g id="n_CBX3"><ellipse class="p" cx="288.3" cy="1436.4" rx="44.3" ry="27.5"/><text class="t" x="288.3" y="1443.1">CBX3</text></g>

<g id="n_ACSL4"><ellipse class="c" cx="964.8" cy="750.1" rx="44.3" ry="27.5"/><text class="t" x="964.8" y="756.8">ACSL4</text></g>
<g id="n_AIFM2"><ellipse class="c" cx="860.6" cy="770.8" rx="44.3" ry="27.5"/><text class="t" x="860.6" y="777.5">AIFM2</text></g>
<g id="n_NSG1"><ellipse class="c" cx="1056" cy="766.8" rx="44.3" ry="27.5"/><text class="t" x="1056" y="773.5">NSG1</text></g>
<g id="n_RAB3C"><ellipse class="c" cx="789.3" cy="799.2" rx="44.3" ry="27.5"/><text class="t" x="789.3" y="805.9">RAB3C</text></g>
<g id="n_N4BP2L1"><ellipse class="c" cx="1164.8" cy="802.6" rx="44.3" ry="27.5"/><text class="t" x="1164.8" y="809.3">N4BP2L1</text></g>
<g id="n_SH3TC2"><ellipse class="c" cx="884" cy="823.8" rx="44.3" ry="27.5"/><text class="t" x="884" y="830.5">SH3TC2</text></g>
<g id="n_KLF6"><ellipse class="c" cx="971.4" cy="816.4" rx="44.3" ry="27.5"/><text class="t" x="971.4" y="823.1">KLF6</text></g>
<g id="n_SAMD4A"><ellipse class="c" cx="1074.2" cy="831" rx="44.3" ry="27.5"/><text class="t" x="1074.2" y="837.7">SAMD4A</text></g>
<g id="n_MAF"><ellipse class="c" cx="691.8" cy="874.7" rx="44.3" ry="27.5"/><text class="t" x="691.8" y="881.4">MAF</text></g>
<g id="n_PLEKHM3"><ellipse class="c" cx="805.8" cy="868.6" rx="44.3" ry="27.5"/><text class="t" x="805.8" y="875.3">PLEKHM3</text></g>
<g id="n_PLA2G4A"><ellipse class="c" cx="913.1" cy="882.1" rx="44.3" ry="27.5"/><text class="t" x="913.1" y="888.8">PLA2G4A</text></g>
<g id="n_ZNF781"><ellipse class="c" cx="1008.7" cy="887.2" rx="44.3" ry="27.5"/><text class="t" x="1008.7" y="893.9">ZNF781</text></g>
<g id="n_FAM180B"><ellipse class="c" cx="1091.1" cy="883.4" rx="44.3" ry="27.5"/><text class="t" x="1091.1" y="890.1">FAM180B</text></g>
<g id="n_APOLD1"><ellipse class="c" cx="1172" cy="863.3" rx="44.3" ry="27.5"/><text class="t" x="1172" y="870">APOLD1</text></g>
<g id="n_SHC3"><ellipse class="c" cx="1267.1" cy="890.6" rx="44.3" ry="27.5"/><text class="t" x="1267.1" y="897.3">SHC3</text></g>
<g id="n_CRIM1"><ellipse class="c" cx="742.1" cy="921.6" rx="44.3" ry="27.5"/><text class="t" x="742.1" y="928.3">CRIM1</text></g>
<g id="n_DUSP6"><ellipse class="c" cx="840.7" cy="920.3" rx="44.3" ry="27.5"/><text class="t" x="840.7" y="927">DUSP6</text></g>
<g id="n_ZEB2"><ellipse class="c" cx="921.6" cy="944.1" rx="44.3" ry="27.5"/><text class="t" x="921.6" y="950.8">ZEB2</text></g>
<g id="n_FIGN"><ellipse class="c" cx="1009.3" cy="943.6" rx="44.3" ry="27.5"/><text class="t" x="1009.3" y="950.3">FIGN</text></g>
<g id="n_ZEB1"><ellipse class="c" cx="1097.9" cy="937.8" rx="44.3" ry="27.5"/><text class="t" x="1097.9" y="944.5">ZEB1</text></g>
<g id="n_PPM1L"><ellipse class="c" cx="1188" cy="921.6" rx="44.3" ry="27.5"/><text class="t" x="1188" y="928.3">PPM1L</text></g>
<g id="n_ARHGEF28"><ellipse class="c" cx="1302.2" cy="964" rx="44.3" ry="27.5"/><text class="t" x="1302.2" y="968">ARHGEF28</text></g>
<g id="n_EGR3"><ellipse class="c" cx="656.8" cy="982.8" rx="44.3" ry="27.5"/><text class="t" x="656.8" y="989.5">EGR3</text></g>
<g id="n_RFTN2"><ellipse class="c" cx="740.3" cy="977.3" rx="44.3" ry="27.5"/><text class="t" x="740.3" y="984">RFTN2</text></g>
<g id="n_JUN"><ellipse class="c" cx="841.5" cy="982" rx="44.3" ry="27.5"/><text class="t" x="841.5" y="988.7">JUN</text></g>
<g id="n_ANTXR2"><ellipse class="c" cx="1024.8" cy="1007.2" rx="44.3" ry="27.5"/><text class="t" x="1024.8" y="1013.9">ANTXR2</text></g>
<g id="n_RRAGD"><ellipse class="c" cx="1134.2" cy="998" rx="44.3" ry="27.5"/><text class="t" x="1134.2" y="1004.7">RRAGD</text></g>
<g id="n_PGM5"><ellipse class="c" cx="1213.3" cy="978.6" rx="44.3" ry="27.5"/><text class="t" x="1213.3" y="985.3">PGM5</text></g>
<g id="n_SLCO1A2"><ellipse class="c" cx="636.1" cy="1045.6" rx="44.3" ry="27.5"/><text class="t" x="636.1" y="1052.3">SLCO1A2</text></g>
<g id="n_ZNF462"><ellipse class="c" cx="743.5" cy="1042.5" rx="44.3" ry="27.5"/><text class="t" x="743.5" y="1049.2">ZNF462</text></g>
<g id="n_ZC3H12C"><ellipse class="c" cx="923.7" cy="1031.1" rx="44.3" ry="27.5"/><text class="t" x="923.7" y="1037.8">ZC3H12C</text></g>
<g id="n_TCF15"><ellipse class="c" cx="841.5" cy="1059.7" rx="44.3" ry="27.5"/><text class="t" x="841.5" y="1066.4">TCF15</text></g>
<g id="n_PTGER4"><ellipse class="c" cx="1084.3" cy="1059.4" rx="44.3" ry="27.5"/><text class="t" x="1084.3" y="1066.1">PTGER4</text></g>
<g id="n_RBPMS2"><ellipse class="c" cx="1189.8" cy="1032.4" rx="44.3" ry="27.5"/><text class="t" x="1189.8" y="1039.1">RBPMS2</text></g>
<g id="n_MYLK2"><ellipse class="c" cx="1321.6" cy="1036.4" rx="44.3" ry="27.5"/><text class="t" x="1321.6" y="1043.1">MYLK2</text></g>
<g id="n_STOX2"><ellipse class="c" cx="649.4" cy="1106.6" rx="44.3" ry="27.5"/><text class="t" x="649.4" y="1113.3">STOX2</text></g>
<g id="n_MEOX2"><ellipse class="c" cx="751.4" cy="1101.5" rx="44.3" ry="27.5"/><text class="t" x="751.4" y="1108.2">MEOX2</text></g>
<g id="n_CELF2"><ellipse class="c" cx="843.7" cy="1129.5" rx="44.3" ry="27.5"/><text class="t" x="843.7" y="1136.2">CELF2</text></g>
<g id="n_ID4"><ellipse class="c" cx="1161.6" cy="1091.5" rx="44.3" ry="27.5"/><text class="t" x="1161.6" y="1098.2">ID4</text></g>
<g id="n_MYOZ3"><ellipse class="c" cx="1252.6" cy="1088.3" rx="44.3" ry="27.5"/><text class="t" x="1252.6" y="1095">MYOZ3</text></g>
<g id="n_TBX18"><ellipse class="c" cx="1345.9" cy="1102.8" rx="44.3" ry="27.5"/><text class="t" x="1345.9" y="1109.5">TBX18</text></g>
<g id="n_ZC3H12B"><ellipse class="c" cx="650.7" cy="1179.9" rx="44.3" ry="27.5"/><text class="t" x="650.7" y="1186.6">ZC3H12B</text></g>
<g id="n_CRB2"><ellipse class="c" cx="742.2" cy="1154.7" rx="44.3" ry="27.5"/><text class="t" x="742.2" y="1161.4">CRB2</text></g>
<g id="n_EDA"><ellipse class="c" cx="1169.9" cy="1152.6" rx="44.3" ry="27.5"/><text class="t" x="1169.9" y="1159.3">EDA</text></g>
<g id="n_PTPN14"><ellipse class="c" cx="1271" cy="1152" rx="44.3" ry="27.5"/><text class="t" x="1271" y="1158.7">PTPN14</text></g>
<g id="n_FBXO32"><ellipse class="c" cx="1366.2" cy="1162.7" rx="44.3" ry="27.5"/><text class="t" x="1366.2" y="1169.4">FBXO32</text></g>
<g id="n_ARID5B"><ellipse class="c" cx="896.4" cy="1185.7" rx="44.3" ry="27.5"/><text class="t" x="896.4" y="1192.4">ARID5B</text></g>
<g id="n_PTGIS"><ellipse class="c" cx="802.3" cy="1209.6" rx="44.3" ry="27.5"/><text class="t" x="802.3" y="1216.3">PTGIS</text></g>
<g id="n_PDP2"><ellipse class="c" cx="988.5" cy="1205.6" rx="44.3" ry="27.5"/><text class="t" x="988.5" y="1212.3">PDP2</text></g>
<g id="n_MCTP1"><ellipse class="c" cx="1104.5" cy="1197.9" rx="44.3" ry="27.5"/><text class="t" x="1104.5" y="1204.6">MCTP1</text></g>
<g id="n_SV2B"><ellipse class="c" cx="1192.2" cy="1227.6" rx="44.3" ry="27.5"/><text class="t" x="1192.2" y="1234.3">SV2B</text></g>
<g id="n_NCOA7"><ellipse class="c" cx="1269.5" cy="1233.4" rx="44.3" ry="27.5"/><text class="t" x="1269.5" y="1240.1">NCOA7</text></g>
<g id="n_SYNPO2L"><ellipse class="c" cx="691.3" cy="1242.2" rx="44.3" ry="27.5"/><text class="t" x="691.3" y="1248.9">SYNPO2L</text></g>
<g id="n_FAM149A"><ellipse class="c" cx="893.8" cy="1244" rx="44.3" ry="27.5"/><text class="t" x="893.8" y="1250.7">FAM149A</text></g>
<g id="n_PDLIM4"><ellipse class="c" cx="1053.9" cy="1261.5" rx="44.3" ry="27.5"/><text class="t" x="1053.9" y="1268.2">PDLIM4</text></g>
<g id="n_AK5"><ellipse class="c" cx="970.9" cy="1278" rx="44.3" ry="27.5"/><text class="t" x="970.9" y="1284.7">AK5</text></g>
<g id="n_KLF8"><ellipse class="c" cx="1141.7" cy="1271.9" rx="44.3" ry="27.5"/><text class="t" x="1141.7" y="1278.6">KLF8</text></g>
<g id="n_PDGFRA"><ellipse class="c" cx="1341.5" cy="1267.9" rx="44.3" ry="27.5"/><text class="t" x="1341.5" y="1274.6">PDGFRA</text></g>
<g id="n_PKDCC"><ellipse class="c" cx="783.8" cy="1270" rx="44.3" ry="27.5"/><text class="t" x="783.8" y="1276.7">PKDCC</text></g>
<g id="n_FAM107A"><ellipse class="c" cx="1244.2" cy="1307.1" rx="44.3" ry="27.5"/><text class="t" x="1244.2" y="1313.8">FAM107A</text></g>
<g id="n_SMIM10"><ellipse class="c" cx="741.6" cy="1320.4" rx="44.3" ry="27.5"/><text class="t" x="741.6" y="1327.1">SMIM10</text></g>
<g id="n_PLEKHH2"><ellipse class="c" cx="840.2" cy="1331.8" rx="44.3" ry="27.5"/><text class="t" x="840.2" y="1338.5">PLEKHH2</text></g>
<g id="n_SNCA"><ellipse class="c" cx="967.4" cy="1342.9" rx="44.3" ry="27.5"/><text class="t" x="967.4" y="1349.6">SNCA</text></g>
<g id="n_FAT2"><ellipse class="c" cx="1055.4" cy="1334.9" rx="44.3" ry="27.5"/><text class="t" x="1055.4" y="1341.6">FAT2</text></g>
<g id="n_FOSB"><ellipse class="c" cx="1161" cy="1324.3" rx="44.3" ry="27.5"/><text class="t" x="1161" y="1331">FOSB</text></g>
<g id="n_TACC1"><ellipse class="c" cx="1323" cy="1351.4" rx="44.3" ry="27.5"/><text class="t" x="1323" y="1358.1">TACC1</text></g>
<g id="n_KCNB1"><ellipse class="c" cx="781.1" cy="1388.5" rx="44.3" ry="27.5"/><text class="t" x="781.1" y="1395.2">KCNB1</text></g>
<g id="n_PDE1A"><ellipse class="c" cx="906" cy="1380.8" rx="44.3" ry="27.5"/><text class="t" x="906" y="1387.5">PDE1A</text></g>
<g id="n_TAL1"><ellipse class="c" cx="1043.5" cy="1397.2" rx="44.3" ry="27.5"/><text class="t" x="1043.5" y="1403.9">TAL1</text></g>
<g id="n_CCDC141"><ellipse class="c" cx="1144.6" cy="1384.8" rx="44.3" ry="27.5"/><text class="t" x="1144.6" y="1391.5">CCDC141</text></g>
<g id="n_EBF1"><ellipse class="c" cx="1255.2" cy="1403" rx="44.3" ry="27.5"/><text class="t" x="1255.2" y="1409.7">EBF1</text></g>
<g id="n_PDE3B"><ellipse class="c" cx="869.9" cy="1439.6" rx="44.3" ry="27.5"/><text class="t" x="869.9" y="1446.3">PDE3B</text></g>
<g id="n_ADRB1"><ellipse class="c" cx="965.3" cy="1463" rx="44.3" ry="27.5"/><text class="t" x="965.3" y="1469.7">ADRB1</text></g>
<g id="n_NLGN4X"><ellipse class="c" cx="1079.2" cy="1455.5" rx="44.3" ry="27.5"/><text class="t" x="1079.2" y="1462.2">NLGN4X</text></g>
<g id="n_FRMD3"><ellipse class="c" cx="1184.2" cy="1446.3" rx="44.3" ry="27.5"/><text class="t" x="1184.2" y="1453">FRMD3</text></g>

<!-- connectors -->
<g id="edges" class="edges">
<line x1="224" y1="861" x2="205.3" y2="708.8" mask="url(#m_YBX3)"/>
<line x1="224" y1="861" x2="298.4" y2="725" mask="url(#m_EMX2)"/>
<line x1="224" y1="861" x2="116.1" y2="738.8" mask="url(#m_SATB1)"/>
<line x1="224" y1="861" x2="61.3" y2="792" mask="url(#m_TMOD2)"/>
<line x1="224" y1="861" x2="53.7" y2="862" mask="url(#m_RGS2)"/>
<line x1="224" y1="861" x2="71.3" y2="926.1" mask="url(#m_EGR1)"/>
<line x1="224" y1="861" x2="117.8" y2="979.7" mask="url(#m_CBLN4)"/>
<line x1="224" y1="861" x2="218.8" y2="1002.5" mask="url(#m_B4GALT6)"/>
<line x1="224" y1="861" x2="467.5" y2="819.1" mask="url(#m_PLXNA4)"/>
<line x1="224" y1="861" x2="409.3" y2="1043" mask="url(#m_IFFO2)"/>
<line x1="224" y1="1306" x2="203.5" y2="1175.7" mask="url(#m_CDC25A)"/>
<line x1="224" y1="1306" x2="294.7" y2="1192.8" mask="url(#m_PCSK9)"/>
<line x1="224" y1="1306" x2="121.9" y2="1220.5" mask="url(#m_TTC39A)"/>
<line x1="224" y1="1306" x2="367" y2="1262" mask="url(#m_FGFR3)"/>
<line x1="224" y1="1306" x2="67.4" y2="1296.1" mask="url(#m_IFIT3)"/>
<line x1="224" y1="1306" x2="369" y2="1362" mask="url(#m_PPFIA3)"/>
<line x1="224" y1="1306" x2="101.1" y2="1383.2" mask="url(#m_SMPDL3B)"/>
<line x1="224" y1="1306" x2="187.6" y2="1446.4" mask="url(#m_ESR1)"/>
<line x1="224" y1="1306" x2="288.3" y2="1436.4" mask="url(#m_CBX3)"/>
<line x1="1008" y1="1125" x2="467.5" y2="819.1" mask="url(#m_PLXNA4)"/>
<line x1="1008" y1="1125" x2="409.3" y2="1043" mask="url(#m_IFFO2)"/>
<line x1="1008" y1="1125" x2="964.8" y2="750.1" mask="url(#m_ACSL4)"/>
<line x1="1008" y1="1125" x2="860.6" y2="770.8" mask="url(#m_AIFM2)"/>
<line x1="1008" y1="1125" x2="1056" y2="766.8" mask="url(#m_NSG1)"/>
<line x1="1008" y1="1125" x2="789.3" y2="799.2" mask="url(#m_RAB3C)"/>
<line x1="1008" y1="1125" x2="1164.8" y2="802.6" mask="url(#m_N4BP2L1)"/>
<line x1="1008" y1="1125" x2="884" y2="823.8" mask="url(#m_SH3TC2)"/>
<line x1="1008" y1="1125" x2="971.4" y2="816.4" mask="url(#m_KLF6)"/>
<line x1="1008" y1="1125" x2="1074.2" y2="831" mask="url(#m_SAMD4A)"/>
<line x1="1008" y1="1125" x2="691.8" y2="874.7" mask="url(#m_MAF)"/>
<line x1="1008" y1="1125" x2="805.8" y2="868.6" mask="url(#m_PLEKHM3)"/>
<line x1="1008" y1="1125" x2="913.1" y2="882.1" mask="url(#m_PLA2G4A)"/>
<line x1="1008" y1="1125" x2="1008.7" y2="887.2" mask="url(#m_ZNF781)"/>
<line x1="1008" y1="1125" x2="1091.1" y2="883.4" mask="url(#m_FAM180B)"/>
<line x1="1008" y1="1125" x2="1172" y2="863.3" mask="url(#m_APOLD1)"/>
<line x1="1008" y1="1125" x2="1267.1" y2="890.6" mask="url(#m_SHC3)"/>
<line x1="1008" y1="1125" x2="742.1" y2="921.6" mask="url(#m_CRIM1)"/>
<line x1="1008" y1="1125" x2="840.7" y2="920.3" mask="url(#m_DUSP6)"/>
<line x1="1008" y1="1125" x2="921.6" y2="944.1" mask="url(#m_ZEB2)"/>
<line x1="1008" y1="1125" x2="1009.3" y2="943.6" mask="url(#m_FIGN)"/>
<line x1="1008" y1="1125" x2="1097.9" y2="937.8" mask="url(#m_ZEB1)"/>
<line x1="1008" y1="1125" x2="1188" y2="921.6" mask="url(#m_PPM1L)"/>
<line x1="1008" y1="1125" x2="1302.2" y2="964" mask="url(#m_ARHGEF28)"/>
<line x1="1008" y1="1125" x2="656.8" y2="982.8" mask="url(#m_EGR3)"/>
<line x1="1008" y1="1125" x2="740.3" y2="977.3" mask="url(#m_RFTN2)"/>
<line x1="1008" y1="1125" x2="841.5" y2="982" mask="url(#m_JUN)"/>
<line x1="1008" y1="1125" x2="1024.8" y2="1007.2" mask="url(#m_ANTXR2)"/>
<line x1="1008" y1="1125" x2="1134.2" y2="998" mask="url(#m_RRAGD)"/>
<line x1="1008" y1="1125" x2="1213.3" y2="978.6" mask="url(#m_PGM5)"/>
<line x1="1008" y1="1125" x2="636.1" y2="1045.6" mask="url(#m_SLCO1A2)"/>
<line x1="1008" y1="1125" x2="743.5" y2="1042.5" mask="url(#m_ZNF462)"/>
<line x1="1008" y1="1125" x2="923.7" y2="1031.1" mask="url(#m_ZC3H12C)"/>
<line x1="1008" y1="1125" x2="841.5" y2="1059.7" mask="url(#m_TCF15)"/>
<line x1="1008" y1="1125" x2="1084.3" y2="1059.4" mask="url(#m_PTGER4)"/>
<line x1="1008" y1="1125" x2="1189.8" y2="1032.4" mask="url(#m_RBPMS2)"/>
<line x1="1008" y1="1125" x2="1321.6" y2="1036.4" mask="url(#m_MYLK2)"/>
<line x1="1008" y1="1125" x2="649.4" y2="1106.6" mask="url(#m_STOX2)"/>
<line x1="1008" y1="1125" x2="751.4" y2="1101.5" mask="url(#m_MEOX2)"/>
<line x1="1008" y1="1125" x2="843.7" y2="1129.5" mask="url(#m_CELF2)"/>
<line x1="1008" y1="1125" x2="1161.6" y2="1091.5" mask="url(#m_ID4)"/>
<line x1="1008" y1="1125" x2="1252.6" y2="1088.3" mask="url(#m_MYOZ3)"/>
<line x1="1008" y1="1125" x2="1345.9" y2="1102.8" mask="url(#m_TBX18)"/>
<line x1="1008" y1="1125" x2="650.7" y2="1179.9" mask="url(#m_ZC3H12B)"/>
<line x1="1008" y1="1125" x2="742.2" y2="1154.7" mask="url(#m_CRB2)"/>
<line x1="1008" y1="1125" x2="1169.9" y2="1152.6" mask="url(#m_EDA)"/>
<line x1="1008" y1="1125" x2="1271" y2="1152" mask="url(#m_PTPN14)"/>
<line x1="1008" y1="1125" x2="1366.2" y2="1162.7" mask="url(#m_FBXO32)"/>
<line x1="1008" y1="1125" x2="896.4" y2="1185.7" mask="url(#m_ARID5B)"/>
<line x1="1008" y1="1125" x2="802.3" y2="1209.6" mask="url(#m_PTGIS)"/>
<line x1="1008" y1="1125" x2="988.5" y2="1205.6" mask="url(#m_PDP2)"/>
<line x1="1008" y1="1125" x2="1104.5" y2="1197.9" mask="url(#m_MCTP1)"/>
<line x1="1008" y1="1125" x2="1192.2" y2="1227.6" mask="url(#m_SV2B)"/>
<line x1="1008" y1="1125" x2="1269.5" y2="1233.4" mask="url(#m_NCOA7)"/>
<line x1="1008" y1="1125" x2="691.3" y2="1242.2" mask="url(#m_SYNPO2L)"/>
<line x1="1008" y1="1125" x2="893.8" y2="1244" mask="url(#m_FAM149A)"/>
<line x1="1008" y1="1125" x2="1053.9" y2="1261.5" mask="url(#m_PDLIM4)"/>
<line x1="1008" y1="1125" x2="970.9" y2="1278" mask="url(#m_AK5)"/>
<line x1="1008" y1="1125" x2="1141.7" y2="1271.9" mask="url(#m_KLF8)"/>
<line x1="1008" y1="1125" x2="1341.5" y2="1267.9" mask="url(#m_PDGFRA)"/>
<line x1="1008" y1="1125" x2="783.8" y2="1270" mask="url(#m_PKDCC)"/>
<line x1="1008" y1="1125" x2="1244.2" y2="1307.1" mask="url(#m_FAM107A)"/>
<line x1="1008" y1="1125" x2="741.6" y2="1320.4" mask="url(#m_SMIM10)"/>
<line x1="1008" y1="1125" x2="840.2" y2="1331.8" mask="url(#m_PLEKHH2)"/>
<line x1="1008" y1="1125" x2="967.4" y2="1342.9" mask="url(#m_SNCA)"/>
<line x1="1008" y1="1125" x2="1055.4" y2="1334.9" mask="url(#m_FAT2)"/>
<line x1="1008" y1="1125" x2="1161" y2="1324.3" mask="url(#m_FOSB)"/>
<line x1="1008" y1="1125" x2="1323" y2="1351.4" mask="url(#m_TACC1)"/>
<line x1="1008" y1="1125" x2="781.1" y2="1388.5" mask="url(#m_KCNB1)"/>
<line x1="1008" y1="1125" x2="906" y2="1380.8" mask="url(#m_PDE1A)"/>
<line x1="1008" y1="1125" x2="1043.5" y2="1397.2" mask="url(#m_TAL1)"/>
<line x1="1008" y1="1125" x2="1144.6" y2="1384.8" mask="url(#m_CCDC141)"/>
<line x1="1008" y1="1125" x2="1255.2" y2="1403" mask="url(#m_EBF1)"/>
<line x1="1008" y1="1125" x2="869.9" y2="1439.6" mask="url(#m_PDE3B)"/>
<line x1="1008" y1="1125" x2="965.3" y2="1463" mask="url(#m_ADRB1)"/>
<line x1="1008" y1="1125" x2="1079.2" y2="1455.5" mask="url(#m_NLGN4X)"/>
<line x1="1008" y1="1125" x2="1184.2" y2="1446.3" mask="url(#m_FRMD3)"/>
</g>

<!-- miRNA hub nodes -->
<g id="n_hsa-miR-191-5p"><polygon points="227,829 177,894.6 276,894.6" fill="#FF66E6"/><text class="tl" x="227" y="871.8">hsa-miR-191-5p</text></g>
<g id="n_hsa-miR-100-5p"><polygon points="225.4,1280 176,1346 275,1346" fill="#00E0E0"/><text class="tl" x="225.4" y="1322.6">hsa-miR-100-5p</text></g>
<g id="n_hsa-miR-342-3p"><polygon points="1008,1094 961,1159 1057,1159" fill="#FF66E6"/><text class="tl" x="1008" y="1136.8">hsa-miR-342-3p</text></g>
</g>
</svg>
